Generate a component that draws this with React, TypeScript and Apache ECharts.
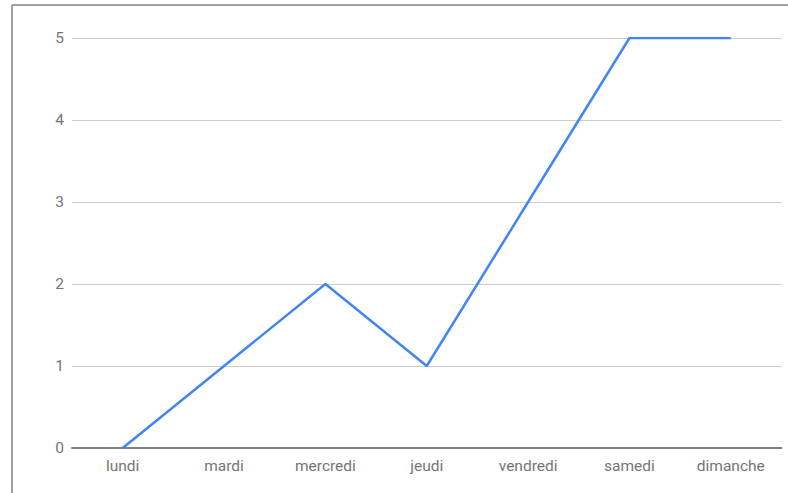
import React, { useEffect, useRef } from "react";
import * as echarts from "echarts";

const days = ["lundi", "mardi", "mercredi", "jeudi", "vendredi", "samedi", "dimanche"];
const values = [0, 1, 2, 1, 3, 5, 5];
const yTicks = { min: 0, max: 5, interval: 1 };

export default function App() {
  const ref = useRef<HTMLDivElement>(null);

  useEffect(() => {
    if (!ref.current) return;
    const chart = echarts.init(ref.current, null, { renderer: "svg" });
    const labelStyle = {
      color: "#757575",
      fontFamily: "Roboto",
      fontSize: 15.5,
    };
    chart.setOption({
      animation: false,
      backgroundColor: "#ffffff",
      grid: { left: 72, right: 6.5, top: 38, bottom: 45, containLabel: false },
      xAxis: {
        type: "category",
        data: days,
        boundaryGap: true,
        axisLine: { show: true, lineStyle: { color: "#808080", width: 2 } },
        axisTick: { show: false },
        axisLabel: { ...labelStyle, margin: 10, interval: 0 },
        splitLine: { show: false },
      },
      yAxis: {
        type: "value",
        min: yTicks.min,
        max: yTicks.max,
        interval: yTicks.interval,
        axisLine: { show: false },
        axisTick: { show: false },
        axisLabel: { ...labelStyle, margin: 8 },
        splitLine: { show: true, lineStyle: { color: "#cccccc", width: 1 } },
      },
      series: [
        {
          type: "line",
          data: values,
          showSymbol: false,
          symbol: "none",
          lineStyle: { color: "#4285f4", width: 2.5 },
        },
      ],
      graphic: [
        {
          type: "line",
          shape: { x1: 12, y1: 5, x2: 788, y2: 5 },
          style: { stroke: "#a0a0a0", lineWidth: 2 },
          z: 10,
        },
        {
          type: "line",
          shape: { x1: 12, y1: 5, x2: 12, y2: 493 },
          style: { stroke: "#a0a0a0", lineWidth: 2 },
          z: 10,
        },
      ],
    });
    return () => chart.dispose();
  }, []);

  return (
    <div
      ref={ref}
      style={{ position: "fixed", left: 0, top: 0, width: 788, height: 493 }}
    />
  );
}
